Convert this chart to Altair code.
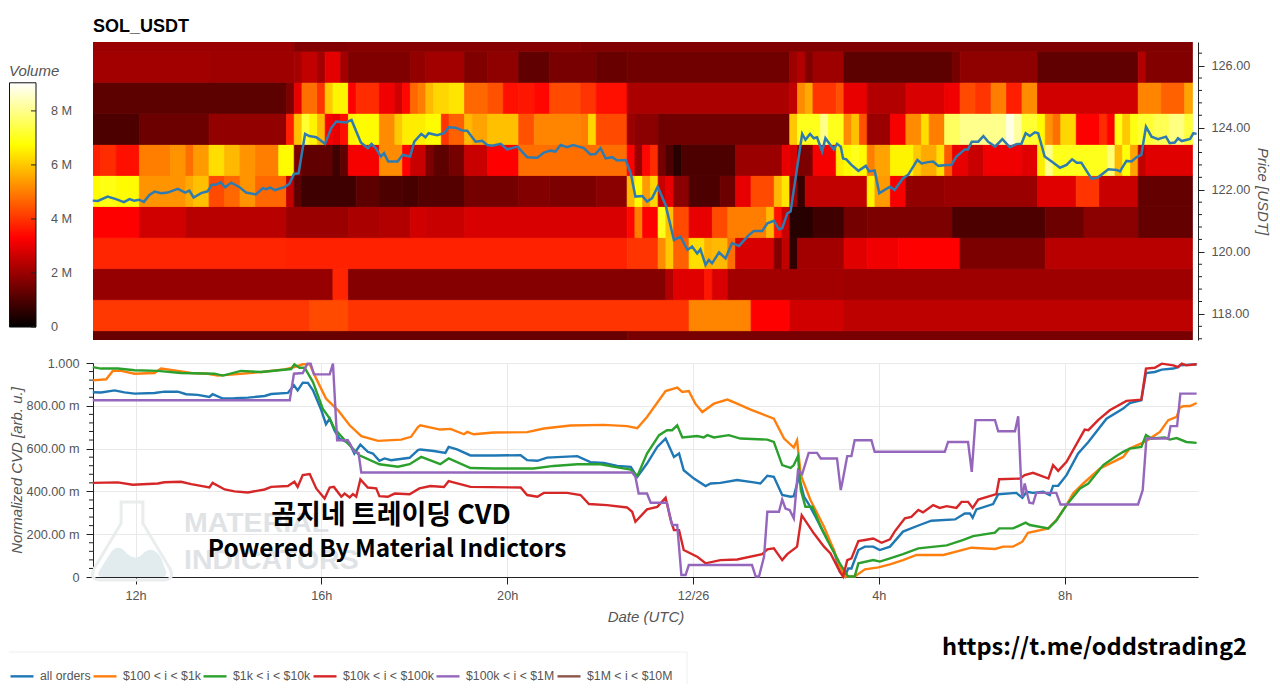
import altair as alt
import pandas as pd

FONT = "Liberation Sans"
KR_FONT = "Noto Sans CJK KR"
TEXT_GRAY = "#555555"

# -----------------------------
# Data
# -----------------------------
X_DOMAIN = [11.085, 34.87]
PRICE_DOMAIN = [117.16, 126.76]
HOUR_TICKS = [12, 16, 20, 24, 28, 32]
PRICE_TICKS = [118, 120, 122, 124, 126]
PRICE_MINOR = [117.2, 117.6, 118.4, 118.8, 119.2, 119.6, 120.4, 120.8, 121.2, 121.6, 122.4, 122.8,
               123.2, 123.6, 124.4, 124.8, 125.2, 125.6, 126.4]
CVD_TICKS = [0, 0.2, 0.4, 0.6, 0.8, 1.0]
CVD_MINOR = [0.04, 0.08, 0.12, 0.16, 0.24, 0.28, 0.32, 0.36, 0.44, 0.48, 0.52, 0.56,
             0.64, 0.68, 0.72, 0.76, 0.84, 0.88, 0.92, 0.96]

# heat map: (number of 10 minute columns, volume in millions), one list per 1 USDT price band
HEAT_START = 11.0833
BAND_LOW = [116.46, 117.46, 118.46, 119.46, 120.46, 121.46, 122.46, 123.46, 124.46, 125.46, 126.46]
BAND_0 = [(69, 1.35), (73, 1.55)]
BAND_1 = [(28, 4.05), (5, 4.3), (44, 4.0), (8, 5.1), (5, 3.3), (7, 2.7), (45, 2.45)]
BAND_2 = [(31, 1.95), (2, 3.8), (41, 1.72), (1, 2.3), (4, 2.9), (1, 3.6), (2, 2.8), (15, 2.1), (45, 2.05)]
BAND_3 = [(25, 3.8), (44, 3.75), (4, 4.0), (1, 5.2), (1, 6.0), (2, 4.6), (2, 6.3), (1, 5.7), (2, 5.8), (1, 4.8),
          (5, 2.8), (1, 1.7), (1, 2.5), (1, 0.6), (6, 2.1), (3, 2.9), (4, 3.1), (8, 3.3), (11, 1.6), (19, 2.4)]
BAND_4 = [(6, 3.3), (6, 2.7), (13, 2.4), (8, 2.0), (4, 2.2), (4, 2.3), (2, 2.7), (5, 2.6), (21, 2.8), (1, 3.4),
          (1, 5.0), (2, 3.3), (1, 7.0), (1, 5.9), (2, 4.3), (3, 3.0), (2, 4.3), (5, 5.0), (1, 5.8), (1, 3.5),
          (1, 2.6), (3, 0.5), (4, 0.8), (3, 1.5), (11, 1.6), (12, 1.0), (5, 1.4), (7, 1.8), (7, 1.3)]
BAND_5 = [(1, 6.7), (2, 6.9), (3, 6.7), (6, 5.3), (1, 5.6), (2, 5.9), (2, 4.3), (2, 4.7), (2, 5.3), (4, 4.7),
          (1, 2.5), (1, 1.2), (7, 0.8), (3, 1.2), (3, 1.0), (2, 0.9), (6, 1.1), (7, 1.5), (4, 1.7), (6, 1.6),
          (4, 1.8), (1, 5.8), (1, 6.7), (1, 5.4), (1, 6.2), (1, 2.6), (1, 3.0), (2, 1.8), (4, 1.0), (2, 1.4),
          (2, 3.0), (3, 4.3), (1, 5.8), (1, 6.4), (1, 2.0), (1, 0.7), (8, 2.5), (1, 6.6), (2, 5.4), (2, 3.2),
          (5, 1.9), (12, 2.0), (5, 2.9), (3, 4.0), (5, 2.6), (7, 1.3)]
BAND_6 = [(1, 3.7), (2, 3.9), (3, 3.5), (4, 5.0), (2, 5.3), (1, 4.8), (2, 5.4), (2, 6.3), (2, 5.8), (2, 5.3),
          (3, 5.0), (2, 6.7), (1, 1.6), (4, 1.25), (1, 0.8), (1, 1.25), (4, 3.2), (3, 5.2), (1, 3.3), (2, 2.6),
          (1, 1.6), (2, 1.2), (2, 1.5), (3, 2.6), (4, 3.3), (14, 4.8), (1, 3.3), (1, 2.0), (1, 3.4), (1, 3.9),
          (1, 1.5), (1, 1.0), (1, 0.5), (7, 1.0), (6, 2.0), (1, 3.0), (1, 2.8), (2, 1.6), (3, 3.2), (1, 6.5),
          (1, 6.7), (1, 7.0), (1, 6.7), (1, 5.0), (2, 5.5), (3, 6.6), (1, 6.0), (2, 5.6), (1, 6.3), (1, 4.5),
          (2, 3.0), (2, 2.6), (5, 3.1), (2, 2.9), (1, 6.5), (1, 8.0), (7, 7.0), (1, 7.8), (1, 5.8), (1, 6.8),
          (1, 5.5), (1, 2.5), (6, 2.9)]
BAND_7 = [(6, 1.0), (9, 1.4), (10, 1.9), (1, 3.7), (1, 5.9), (1, 7.2), (1, 6.6), (1, 5.8), (1, 3.2), (1, 3.0),
          (1, 3.5), (1, 6.6), (3, 6.7), (2, 5.2), (1, 6.0), (3, 6.5), (2, 6.7), (1, 4.0), (2, 4.6), (1, 5.8),
          (2, 5.5), (4, 5.9), (2, 4.4), (6, 5.1), (1, 5.0), (1, 6.2), (4, 4.3), (1, 2.0), (3, 1.8), (17, 1.45),
          (1, 6.0), (3, 7.0), (1, 8.0), (2, 7.0), (1, 5.2), (1, 5.9), (1, 4.4), (3, 2.0), (2, 3.2), (2, 5.2),
          (1, 6.3), (2, 5.0), (2, 7.6), (4, 8.0), (2, 8.0), (1, 8.8), (1, 8.2), (2, 7.2), (1, 6.7), (1, 5.3),
          (1, 4.8), (2, 6.2), (3, 3.3), (1, 3.9), (1, 3.3), (1, 6.9), (1, 6.0), (1, 6.9), (2, 7.2), (2, 7.5),
          (2, 7.9), (1, 7.3)]
BAND_8 = [(25, 1.2), (1, 1.6), (1, 3.0), (2, 4.8), (1, 4.0), (1, 6.0), (2, 6.6), (1, 3.3), (3, 3.9), (2, 3.1),
          (1, 2.7), (1, 3.4), (1, 4.7), (1, 5.0), (1, 5.8), (2, 6.2), (2, 6.4), (3, 4.7), (2, 4.4), (2, 3.5),
          (2, 3.6), (2, 3.4), (4, 4.3), (2, 4.0), (4, 3.5), (21, 2.2), (1, 2.5), (1, 5.2), (1, 5.6), (3, 4.0),
          (1, 4.4), (3, 3.0), (5, 2.3), (5, 2.8), (2, 3.1), (2, 4.3), (2, 4.0), (2, 5.0), (2, 3.7), (2, 5.2),
          (13, 2.7), (3, 5.1), (3, 4.6), (1, 5.5)]
BAND_9 = [(15, 2.1), (11, 2.05), (1, 2.15), (2, 2.5), (1, 2.1), (2, 2.95), (1, 2.1), (8, 1.65), (2, 1.9), (5, 2.1),
          (3, 1.65), (4, 1.85), (4, 1.25), (6, 1.55), (4, 1.35), (21, 1.45), (1, 2.05), (1, 2.3), (1, 1.65), (4, 2.05),
          (14, 1.2), (1, 1.5), (10, 1.85), (13, 1.25), (1, 2.3), (6, 1.7)]
BAND_10 = [(26, 2.0), (7, 1.7), (30, 1.75), (79, 1.65)]
BANDS = [BAND_0, BAND_1, BAND_2, BAND_3, BAND_4, BAND_5, BAND_6, BAND_7, BAND_8, BAND_9, BAND_10]

VOLUME_STOPS = [0, 3.3, 6.75, 9.04]
VOLUME_COLORS = ["#000000", "#ff0000", "#ffff00", "#ffffff"]
VOLUME_TICKS = [0, 2, 4, 6, 8]
VOLUME_LABELS = ["0", "2 M", "4 M", "6 M", "8 M"]
VOLUME_AXIS = [-0.48, 10.55]

# (hour since 12/25 00:00, price)
PRICE = [(11.08, 121.65), (11.19, 121.64), (11.40, 121.78), (11.58, 121.70), (11.75, 121.60), (11.87, 121.70),
         (11.97, 121.65), (12.08, 121.68), (12.18, 121.61), (12.30, 121.83), (12.41, 121.94), (12.55, 121.89),
         (12.69, 121.91), (12.91, 122.03), (13.07, 121.91), (13.16, 121.97), (13.25, 121.75), (13.41, 121.89),
         (13.55, 121.95), (13.64, 122.16), (13.73, 122.16), (13.83, 122.24), (13.93, 122.08), (14.06, 122.23),
         (14.24, 122.08), (14.38, 121.91), (14.59, 121.85), (14.74, 122.05), (14.81, 122.02), (14.90, 122.07),
         (15.00, 121.99), (15.20, 122.08), (15.31, 122.19), (15.41, 122.51), (15.51, 122.53), (15.65, 123.80),
         (15.74, 123.73), (15.89, 123.69), (16.08, 123.48), (16.21, 123.98), (16.32, 124.20), (16.53, 124.17),
         (16.65, 124.25), (16.85, 123.52), (17.00, 123.34), (17.08, 123.48), (17.17, 123.34), (17.28, 123.07),
         (17.35, 123.18), (17.44, 122.91), (17.64, 122.91), (17.75, 123.12), (17.91, 123.07), (18.00, 123.55),
         (18.15, 123.80), (18.24, 123.69), (18.31, 123.82), (18.49, 123.76), (18.64, 123.82), (18.74, 124.01),
         (18.89, 124.00), (19.03, 123.91), (19.14, 123.90), (19.32, 123.55), (19.46, 123.58), (19.57, 123.44),
         (19.68, 123.42), (19.86, 123.48), (20.00, 123.30), (20.22, 123.39), (20.43, 123.05), (20.65, 123.03),
         (20.79, 123.20), (20.93, 123.26), (21.04, 123.23), (21.15, 123.44), (21.29, 123.37), (21.42, 123.44),
         (21.65, 123.34), (21.79, 123.14), (21.90, 123.15), (22.01, 123.34), (22.12, 123.01), (22.26, 123.05),
         (22.37, 122.94), (22.55, 122.96), (22.66, 122.53), (22.76, 121.78), (22.91, 121.80), (23.01, 121.62),
         (23.12, 121.73), (23.24, 122.10), (23.41, 121.51), (23.59, 120.38), (23.73, 120.49), (23.88, 120.06),
         (23.98, 120.17), (24.09, 119.95), (24.16, 120.08), (24.27, 119.58), (24.34, 119.74), (24.41, 119.63),
         (24.56, 119.98), (24.70, 119.79), (24.84, 120.28), (24.99, 120.19), (25.20, 120.54), (25.31, 120.67),
         (25.49, 120.67), (25.60, 120.92), (25.74, 121.00), (25.85, 120.73), (25.92, 120.76), (26.03, 121.24),
         (26.10, 121.30), (26.35, 123.80), (26.42, 123.61), (26.52, 123.80), (26.60, 123.66), (26.67, 123.69),
         (26.78, 123.23), (26.85, 123.66), (27.03, 123.30), (27.10, 123.48), (27.18, 123.39), (27.23, 123.01),
         (27.30, 122.98), (27.41, 122.80), (27.56, 122.61), (27.72, 122.77), (27.79, 122.59), (27.91, 122.62),
         (28.01, 121.89), (28.24, 122.10), (28.34, 121.99), (28.52, 122.37), (28.63, 122.48), (28.83, 122.96),
         (28.92, 122.85), (29.06, 122.89), (29.17, 122.91), (29.28, 122.77), (29.46, 122.80), (29.56, 122.80),
         (29.67, 123.07), (29.85, 123.30), (29.92, 123.30), (30.00, 123.55), (30.14, 123.55), (30.25, 123.73),
         (30.35, 123.55), (30.50, 123.39), (30.66, 123.63), (30.82, 123.37), (30.96, 123.47), (31.07, 123.48),
         (31.16, 123.82), (31.25, 123.73), (31.36, 123.85), (31.43, 123.82), (31.57, 123.07), (31.72, 122.91),
         (31.90, 122.71), (32.04, 122.80), (32.16, 122.98), (32.26, 122.87), (32.36, 122.87), (32.58, 122.35),
         (32.72, 122.40), (32.94, 122.66), (33.12, 122.64), (33.19, 122.59), (33.33, 122.93), (33.44, 122.91),
         (33.55, 123.05), (33.65, 123.12), (33.75, 124.03), (33.87, 123.71), (34.01, 123.63), (34.18, 123.71),
         (34.26, 123.50), (34.37, 123.52), (34.44, 123.66), (34.52, 123.57), (34.70, 123.64), (34.77, 123.82),
         (34.84, 123.80)]

# (hour since 12/25 00:00, normalized CVD)
ALL_ORDERS = [(11.08, .863), (11.26, .862), (11.55, .872), (11.76, .863), (11.98, .857), (12.41, .860), (12.62, .866),
              (12.91, .866), (13.09, .854), (13.34, .851), (13.59, .841), (13.66, .854), (13.88, .834), (14.13, .835),
              (14.42, .838), (14.78, .846), (14.92, .855), (15.28, .860), (15.41, .896), (15.49, .872), (15.60, .908),
              (15.71, .907), (15.82, .872), (16.00, .779), (16.10, .714), (16.18, .740), (16.28, .686), (16.39, .647),
              (16.61, .624), (16.71, .577), (16.84, .619), (17.00, .585), (17.11, .577), (17.25, .543), (17.36, .554),
              (17.50, .546), (17.90, .557), (18.08, .593), (18.13, .596), (18.42, .589), (18.67, .580), (18.74, .608),
              (18.92, .596), (19.21, .568), (19.71, .568), (20.29, .569), (20.43, .546), (20.65, .543), (20.86, .558),
              (21.51, .565), (21.79, .537), (22.08, .533), (22.37, .519), (22.66, .515), (22.80, .468), (23.01, .530),
              (23.23, .608), (23.41, .647), (23.59, .561), (23.70, .577), (23.80, .499), (24.02, .460), (24.27, .425),
              (24.38, .437), (24.59, .440), (24.95, .453), (25.31, .442), (25.45, .437), (25.60, .473), (25.74, .468),
              (25.92, .383), (26.10, .375), (26.17, .378), (26.28, .468), (26.39, .375), (26.49, .341), (26.64, .281),
              (26.82, .204), (27.03, .126), (27.16, .025), (27.27, .002), (27.34, .040), (27.41, .040), (27.56, .126),
              (27.70, .142), (27.88, .142), (28.02, .126), (28.24, .142), (28.52, .212), (28.88, .243), (29.13, .263),
              (29.64, .269), (29.85, .297), (29.96, .297), (30.02, .277), (30.10, .316), (30.46, .341), (30.57, .387),
              (30.96, .393), (31.09, .370), (31.18, .398), (31.32, .393), (31.54, .398), (31.68, .383), (31.75, .426),
              (31.86, .426), (32.04, .476), (32.29, .577), (32.51, .631), (32.90, .740), (33.26, .787), (33.40, .813),
              (33.65, .826), (33.75, .953), (33.94, .958), (34.09, .969), (34.34, .974), (34.44, .981), (34.48, .989),
              (34.84, .994)]
ORDERS_100_1K = [(11.08, .919), (11.37, .924), (11.51, .963), (11.69, .963), (11.98, .950), (12.41, .953), (12.55, .974),
                 (12.91, .963), (13.20, .953), (13.56, .950), (13.77, .941), (14.13, .947), (14.71, .958), (15.21, .970),
                 (15.42, .981), (15.60, .994), (15.75, .994), (15.89, .927), (16.10, .834), (16.36, .779), (16.61, .709),
                 (16.86, .658), (17.22, .636), (17.72, .642), (17.93, .655), (18.08, .701), (18.13, .709), (18.56, .689),
                 (18.78, .692), (19.07, .667), (19.14, .678), (19.28, .667), (19.71, .675), (20.43, .677), (20.79, .694),
                 (21.36, .708), (22.08, .711), (22.58, .705), (22.80, .695), (23.01, .748), (23.41, .869), (23.66, .885),
                 (23.77, .865), (23.91, .869), (24.05, .810), (24.20, .771), (24.45, .810), (24.74, .829), (24.95, .810),
                 (25.24, .782), (25.74, .740), (25.96, .647), (26.17, .605), (26.24, .639), (26.32, .476), (26.53, .359),
                 (26.82, .235), (27.03, .126), (27.16, .048), (27.27, .002), (27.48, .002), (27.70, .036), (27.99, .045),
                 (28.24, .059), (28.52, .079), (28.81, .103), (29.39, .103), (29.99, .137), (30.50, .131), (30.68, .142),
                 (30.89, .142), (31.09, .165), (31.21, .207), (31.65, .227), (31.82, .266), (32.04, .336), (32.18, .390),
                 (32.40, .437), (32.76, .507), (33.26, .561), (33.40, .600), (33.65, .624), (33.80, .642), (34.05, .678),
                 (34.23, .733), (34.41, .748), (34.48, .792), (34.55, .798), (34.70, .799), (34.84, .813)]
ORDERS_1K_10K = [(11.08, .981), (11.26, .974), (11.62, .974), (11.98, .966), (12.48, .963), (12.98, .953), (13.70, .950),
                 (13.88, .941), (14.27, .963), (14.71, .958), (15.35, .972), (15.42, .994), (15.53, .978), (15.64, .978),
                 (15.82, .911), (16.03, .787), (16.18, .740), (16.28, .694), (16.57, .624), (16.82, .569), (17.25, .527),
                 (17.65, .515), (17.90, .527), (18.15, .561), (18.56, .527), (18.74, .554), (19.21, .509), (19.71, .507),
                 (20.57, .507), (21.00, .519), (21.51, .527), (22.01, .527), (22.37, .512), (22.66, .502), (22.80, .471),
                 (23.01, .577), (23.27, .663), (23.44, .686), (23.55, .686), (23.66, .709), (23.77, .652), (24.09, .659),
                 (24.23, .652), (24.31, .663), (24.45, .652), (24.77, .663), (25.02, .647), (25.60, .642), (25.74, .631),
                 (25.92, .523), (26.10, .510), (26.17, .523), (26.26, .565), (26.32, .406), (26.42, .328), (26.57, .328),
                 (26.75, .235), (26.89, .173), (27.16, .064), (27.34, .002), (27.48, .002), (27.56, .064), (27.88, .079),
                 (28.02, .072), (28.24, .087), (28.52, .107), (28.85, .134), (29.46, .148), (29.82, .173), (30.03, .191),
                 (30.50, .207), (30.59, .227), (30.89, .227), (31.16, .254), (31.25, .243), (31.65, .227), (31.82, .263),
                 (32.04, .336), (32.33, .414), (32.51, .437), (32.83, .523), (33.08, .561), (33.26, .585), (33.40, .600),
                 (33.65, .608), (33.75, .663), (33.87, .647), (34.16, .652), (34.26, .642), (34.41, .649), (34.62, .631),
                 (34.84, .627)]
ORDERS_10K_100K = [(11.08, .440), (11.62, .442), (11.94, .431), (12.48, .437), (12.62, .443), (12.98, .445), (13.20, .434),
                   (13.59, .418), (13.66, .440), (13.92, .409), (14.13, .400), (14.42, .395), (14.78, .409), (14.92, .421),
                   (15.28, .425), (15.42, .445), (15.49, .421), (15.60, .476), (15.75, .481), (15.89, .414), (16.07, .367),
                   (16.18, .418), (16.27, .421), (16.43, .375), (16.50, .390), (16.61, .372), (16.68, .387), (16.75, .375),
                   (16.84, .456), (17.00, .418), (17.18, .414), (17.25, .378), (17.43, .375), (17.58, .390), (17.90, .387),
                   (18.11, .414), (18.35, .425), (18.64, .421), (18.74, .448), (19.07, .429), (19.21, .421), (20.29, .418),
                   (20.43, .383), (20.65, .375), (20.79, .393), (21.29, .393), (21.58, .383), (21.76, .341), (22.15, .336),
                   (22.58, .325), (22.69, .305), (22.76, .258), (23.01, .316), (23.23, .328), (23.41, .370), (23.52, .266),
                   (23.59, .219), (23.70, .219), (23.80, .126), (24.09, .095), (24.27, .064), (24.59, .079), (24.95, .082),
                   (25.49, .107), (25.60, .129), (25.74, .134), (25.92, .079), (26.03, .107), (26.24, .142), (26.34, .289),
                   (26.60, .204), (26.82, .142), (26.96, .110), (27.16, .025), (27.23, .002), (27.32, .079), (27.41, .087),
                   (27.56, .168), (27.70, .173), (27.88, .180), (28.06, .160), (28.24, .176), (28.34, .212), (28.56, .274),
                   (28.70, .281), (28.85, .313), (28.95, .302), (29.17, .336), (29.31, .323), (29.46, .331), (29.67, .323),
                   (29.78, .351), (29.92, .351), (30.02, .323), (30.14, .362), (30.53, .387), (30.59, .457), (31.04, .460),
                   (31.14, .476), (31.32, .487), (31.65, .460), (31.75, .523), (31.86, .496), (32.04, .538), (32.43, .689),
                   (32.51, .686), (32.72, .733), (32.97, .779), (33.33, .823), (33.65, .829), (33.75, .974), (33.94, .978),
                   (34.09, .997), (34.34, .989), (34.44, .981), (34.52, .997), (34.62, .989), (34.84, .994)]
ORDERS_100K_1M = [(11.08, .826), (15.32, .826), (15.41, .950), (15.60, .953), (15.70, .997), (15.77, .997), (15.84, .947),
                  (16.18, .947), (16.25, .997), (16.34, .639), (16.57, .639), (16.71, .585), (16.80, .580), (16.86, .488),
                  (22.69, .488), (22.76, .468), (22.83, .390), (23.01, .390), (23.09, .347), (23.44, .347), (23.55, .243),
                  (23.66, .243), (23.75, .009), (23.84, .009), (23.91, .056), (25.27, .056), (25.35, .002), (25.42, .002),
                  (25.53, .095), (25.60, .305), (25.85, .305), (25.92, .362), (25.99, .320), (26.08, .313), (26.17, .274),
                  (26.26, .499), (26.35, .481), (26.49, .580), (26.67, .580), (26.75, .554), (27.10, .554), (27.18, .406),
                  (27.23, .460), (27.32, .565), (27.41, .565), (27.48, .639), (27.84, .639), (27.91, .585), (29.42, .585),
                  (29.49, .631), (29.92, .631), (30.00, .491), (30.08, .733), (30.50, .733), (30.57, .681), (30.93, .681),
                  (31.00, .751), (31.07, .406), (31.09, .375), (31.14, .437), (31.24, .347), (31.32, .344), (31.39, .393),
                  (31.82, .393), (31.91, .339), (33.58, .339), (33.68, .406), (33.76, .647), (34.23, .647), (34.28, .705),
                  (34.42, .705), (34.49, .857), (34.84, .857)]

SERIES = ["all orders", "$100 < i < $1k", "$1k < i < $10k", "$10k < i < $100k", "$100k < i < $1M", "$1M < i < $10M"]
SERIES_COLORS = ["#1f77b4", "#ff7f0e", "#2ca02c", "#d62728", "#9467bd", "#8c564b"]
SERIES_POINTS = [ALL_ORDERS, ORDERS_100_1K, ORDERS_1K_10K, ORDERS_10K_100K, ORDERS_100K_1M]

FLASK_PATH = "M -0.28 -1 L 0.28 -1 L 0.28 -0.45 L 0.98 0.72 Q 1.1 1 0.8 1 L -0.8 1 Q -1.1 1 -0.98 0.72 L -0.28 -0.45 Z"
HILL_PATH = ("M -0.86 0.8 L -0.55 0.3 Q -0.35 0.05 -0.15 0.3 Q 0.1 0.55 0.3 0.3 Q 0.55 0.1 0.75 0.45 "
             "L 0.88 0.8 Q 0.9 0.92 0.75 0.92 L -0.75 0.92 Q -0.9 0.92 -0.86 0.8 Z")

PLOT_WIDTH = 1105
TOP_HEIGHT = 298
BOTTOM_HEIGHT = 214


# -----------------------------
# Tables
# -----------------------------
def heat_table():
    rows = []
    for low, segments in zip(BAND_LOW, BANDS):
        column = 0
        for count, volume in segments:
            rows.append({
                "t0": HEAT_START + column / 6,
                "t1": HEAT_START + (column + count) / 6,
                "p0": low,
                "p1": low + 1,
                "volume": volume,
            })
            column += count
        assert column == 142, (low, column)
    return pd.DataFrame(rows)


def cvd_table():
    rows = []
    for name, points in zip(SERIES, SERIES_POINTS):
        rows += [{"hour": h, "cvd": v, "series": name} for h, v in points]
    return pd.DataFrame(rows)


def _text(text, x, y, size, font=FONT, color="black", weight="bold", align="center", style="normal"):
    data = pd.DataFrame({"text": [text]})
    return (
        alt.Chart(data)
        .mark_text(font=font, fontSize=size, color=color, fontWeight=weight, align=align, fontStyle=style,
                   baseline="middle")
        .encode(text="text:N", x=alt.value(x), y=alt.value(y))
    )


# -----------------------------
# Top panel: volume heat map + price
# -----------------------------
x_scale = alt.Scale(domain=X_DOMAIN, nice=False, zero=False)
price_scale = alt.Scale(domain=PRICE_DOMAIN, nice=False, zero=False)
volume_scale = alt.Scale(domain=VOLUME_STOPS, range=VOLUME_COLORS, interpolate="rgb")
volume_axis_scale = alt.Scale(domain=VOLUME_AXIS, nice=False, zero=False)

heat = (
    alt.Chart(heat_table())
    .mark_rect(clip=True, strokeWidth=0.8)
    .encode(
        x=alt.X("t0:Q", scale=x_scale, axis=None),
        x2="t1:Q",
        y=alt.Y("p0:Q", scale=price_scale, axis=None),
        y2="p1:Q",
        color=alt.Color("volume:Q", scale=volume_scale, legend=None),
        stroke=alt.Stroke("volume:Q", scale=volume_scale, legend=None),
    )
)

price_line = (
    alt.Chart(pd.DataFrame(PRICE, columns=["hour", "price"]))
    .mark_line(color="#2f7bb0", strokeWidth=2.5)
    .encode(
        x=alt.X("hour:Q", scale=x_scale, axis=None),
        y=alt.Y(
            "price:Q",
            scale=price_scale,
            axis=alt.Axis(
                orient="right",
                values=PRICE_TICKS,
                format=".2f",
                title="Price [USDT]",
                titleFont=FONT,
                titleFontSize=15,
                titleFontStyle="italic",
                titleFontWeight="normal",
                titleColor=TEXT_GRAY,
                titlePadding=5,
                labelFont=FONT,
                labelFontSize=12.7,
                labelColor=TEXT_GRAY,
                labelPadding=7,
                tickSize=6,
                tickColor="#222222",
                domainColor="#222222",
                grid=False,
            ),
        ),
    )
)

price_minor = (
    alt.Chart(pd.DataFrame({"tick": PRICE_MINOR}))
    .mark_rule(color="#222222")
    .encode(
        y=alt.Y("tick:Q", scale=price_scale, axis=None),
        x=alt.value(PLOT_WIDTH),
        x2=alt.value(PLOT_WIDTH + 4),
    )
)

# colour bar, left of the plot
gradient = alt.LinearGradient(
    gradient="linear",
    stops=[alt.GradientStop(color=c, offset=s / VOLUME_STOPS[-1]) for s, c in zip(VOLUME_STOPS, VOLUME_COLORS)],
    x1=0, x2=0, y1=1, y2=0,
)
bar = (
    alt.Chart(pd.DataFrame({"low": [VOLUME_STOPS[0]], "high": [VOLUME_STOPS[-1]]}))
    .mark_rect(fill=gradient, stroke="#111111", strokeWidth=1)
    .encode(
        y=alt.Y("low:Q", scale=volume_axis_scale, axis=None),
        y2="high:Q",
        x=alt.value(-83.5),
        x2=alt.value(-57),
    )
)
bar_ticks = (
    alt.Chart(pd.DataFrame({"tick": VOLUME_TICKS}))
    .mark_rule(color="#222222")
    .encode(
        y=alt.Y("tick:Q", scale=volume_axis_scale, axis=None),
        x=alt.value(-62),
        x2=alt.value(-57),
    )
)
bar_labels = (
    alt.Chart(pd.DataFrame({"tick": VOLUME_TICKS, "label": VOLUME_LABELS}))
    .mark_text(align="left", baseline="middle", font=FONT, fontSize=12.7, color=TEXT_GRAY)
    .encode(
        y=alt.Y("tick:Q", scale=volume_axis_scale, axis=None),
        x=alt.value(-42),
        text="label:N",
    )
)
bar_title = _text("Volume", -84, 29, 15, color=TEXT_GRAY, weight="normal", align="left", style="italic")

top = (
    alt.layer(heat, price_line, price_minor, bar, bar_ticks, bar_labels, bar_title)
    .resolve_scale(y="independent")
    .properties(
        width=PLOT_WIDTH,
        height=TOP_HEIGHT,
        title=alt.TitleParams(
            "SOL_USDT", anchor="start", frame="group", font=FONT, fontSize=18, fontWeight="bold",
            color="black", offset=6
        ),
    )
)

# -----------------------------
# Bottom panel: normalized CVD
# -----------------------------
cvd_scale = alt.Scale(domain=[0, 1], nice=False, zero=False)

flask = (
    alt.Chart(pd.DataFrame({"k": [0]}))
    .mark_point(shape=FLASK_PATH, size=6084, filled=False, stroke="#e9eded", strokeWidth=3, opacity=1)
    .encode(x=alt.value(39), y=alt.value(178))
)
hill = (
    alt.Chart(pd.DataFrame({"k": [0]}))
    .mark_point(shape=HILL_PATH, size=6084, filled=True, fill="#e2ebee", strokeWidth=0, opacity=1)
    .encode(x=alt.value(39), y=alt.value(178))
)

lines = (
    alt.Chart(cvd_table())
    .mark_line(strokeWidth=2.4)
    .encode(
        x=alt.X(
            "hour:Q",
            scale=x_scale,
            axis=alt.Axis(
                values=HOUR_TICKS,
                labelExpr="datum.value == 24 ? '12/26' : (datum.value % 24) + 'h'",
                title="Date (UTC)",
                titleFont=FONT,
                titleFontSize=15,
                titleFontStyle="italic",
                titleFontWeight="normal",
                titleColor=TEXT_GRAY,
                titlePadding=8,
                labelFont=FONT,
                labelFontSize=12.7,
                labelColor=TEXT_GRAY,
                labelPadding=5,
                tickSize=7,
                tickColor="#222222",
                domainColor="#222222",
                gridColor="#e9e9e9",
            ),
        ),
        y=alt.Y(
            "cvd:Q",
            scale=cvd_scale,
            axis=alt.Axis(
                values=CVD_TICKS,
                labelExpr="datum.value == 1 ? '1.000' : datum.value == 0 ? '0' : format(datum.value * 1000, '.2f') + ' m'",
                title="Normalized CVD [arb. u.]",
                titleFont=FONT,
                titleFontSize=15,
                titleFontStyle="italic",
                titleFontWeight="normal",
                titleColor=TEXT_GRAY,
                titlePadding=2,
                labelFont=FONT,
                labelFontSize=12.7,
                labelColor=TEXT_GRAY,
                labelPadding=7,
                labelOverlap=False,
                tickSize=7,
                tickColor="#222222",
                domainColor="#222222",
                gridColor="#e9e9e9",
            ),
        ),
        color=alt.Color(
            "series:N",
            scale=alt.Scale(domain=SERIES, range=SERIES_COLORS),
            legend=alt.Legend(
                title=None,
                orient="none",
                legendX=-84,
                legendY=300,
                direction="horizontal",
                columns=6,
                symbolType="stroke",
                symbolSize=529,
                symbolStrokeWidth=2.4,
                labelFont=FONT,
                labelFontSize=12.3,
                labelColor=TEXT_GRAY,
                labelOffset=5,
                columnPadding=-3,
                padding=0,
            ),
        ),
    )
)

cvd_minor = (
    alt.Chart(pd.DataFrame({"tick": CVD_MINOR}))
    .mark_rule(color="#222222")
    .encode(
        y=alt.Y("tick:Q", scale=cvd_scale, axis=None),
        x=alt.value(-4),
        x2=alt.value(0),
    )
)

legend_top = (
    alt.Chart(pd.DataFrame({"k": [0]}))
    .mark_rule(color="#efefef")
    .encode(x=alt.value(-84), x2=alt.value(594), y=alt.value(289))
)
legend_right = (
    alt.Chart(pd.DataFrame({"k": [0]}))
    .mark_rule(color="#efefef")
    .encode(x=alt.value(594), y=alt.value(289), y2=alt.value(321))
)

bottom = (
    alt.layer(
        _text("MATERIAL", 91, 160, 28.5, color="#dfe3e6", align="left"),
        _text("INDICATORS", 91, 197, 28.5, color="#dfe3e6", align="left"),
        flask,
        hill,
        lines,
        cvd_minor,
        legend_top,
        legend_right,
        _text("곰지네 트레이딩 CVD", 298, 153, 27, font=KR_FONT),
        _text("Powered By Material Indictors", 294, 187, 24.4, font=KR_FONT),
        _text("https://t.me/oddstrading2", 1001.5, 285, 23.6, font=KR_FONT),
    )
    .resolve_scale(y="independent")
    .properties(width=PLOT_WIDTH, height=BOTTOM_HEIGHT)
)

chart = (
    alt.vconcat(top, bottom, spacing=17)
    .properties(padding={"left": 0, "top": 10, "right": 2, "bottom": 0}, background="white")
    .configure_view(stroke=None)
)

chart.save("out.html", embed_options={"renderer": "svg", "actions": False})
